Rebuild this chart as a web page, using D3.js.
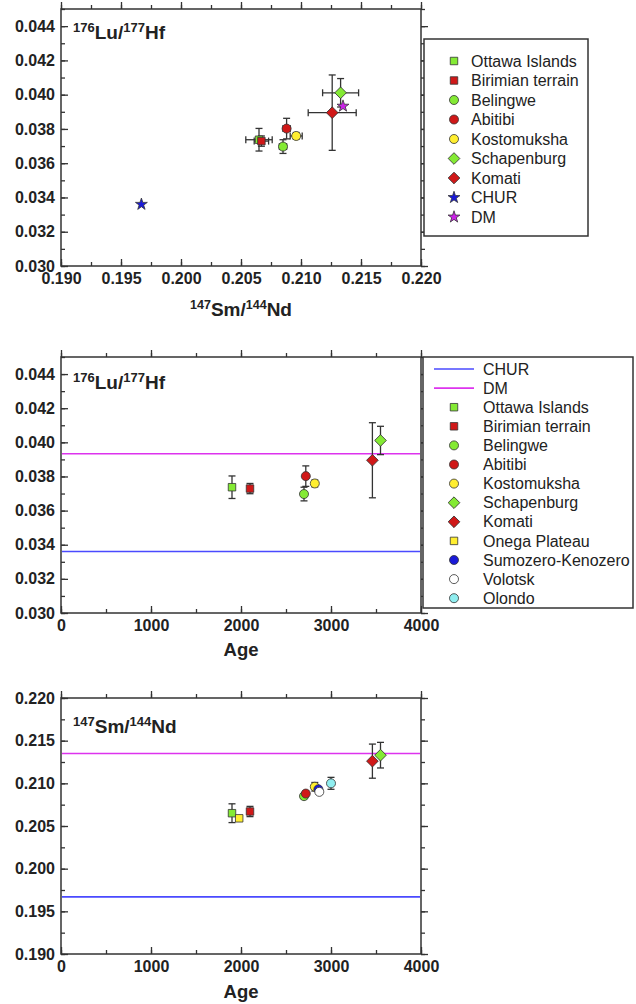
<!DOCTYPE html>
<html lang="en">
<head>
<meta charset="UTF-8">
<title>Lu/Hf and Sm/Nd vs Age</title>
<script src="https://d3js.org/d3.v7.min.js"></script>
<style>
    body { margin: 0; background: #fff; }
    svg { display: block; font-family: "Liberation Sans", Arial, Helvetica, sans-serif; }
    .legend text { font-size: 16px; fill: #222; }
</style>
</head>
<body>
<div id="chart"></div>
<script>
// ---- data ----
const groups = ["Ottawa Islands", "Birimian terrain", "Belingwe", "Abitibi", "Kostomuksha",
                "Schapenburg", "Komati", "Onega Plateau", "Sumozero-Kenozero", "Volotsk", "Olondo"];
const shapes = ["square", "square", "circle", "circle", "circle",
                "diamond", "diamond", "square", "circle", "circle", "circle"];
const colors = ["#84ea34", "#d01818", "#84ea34", "#d01818", "#ffee30",
                "#84ea34", "#d01818", "#ffee30", "#1a1ad8", "#ffffff", "#90eef0"];
const ages     = [1900, 2100, 2700, 2720, 2820, 3550, 3460, 1980, 2860, 2870, 3000];
const smNd     = [0.2065, 0.2067, 0.2085, 0.2088, 0.2096, 0.2133, 0.2126, 0.2059, 0.2093, 0.2090, 0.2100];
const smNdErr  = [0.0011, 0.0006, 0.0003, 0.0003, 0.0005, 0.0015, 0.0020, 0.0003, 0.0003, 0.0003, 0.0007];
const luHf     = [0.03737, 0.03729, 0.03697, 0.03802, 0.03759, 0.04011, 0.03895, null, null, null, null];
const luHfErr  = [0.00066, 0.00030, 0.00040, 0.00060, 0.00020, 0.00083, 0.00220, null, null, null, null];

const reservoirs = ["CHUR", "DM"];
const reservoirColors = ["#1a1ad8", "#cc22e8"];
const lineColors = ["#4a4aff", "#dd33ee"];
const reservoirSmNd = [0.1967, 0.2135];
const reservoirLuHf = [0.0336, 0.03933];

const luHfTicks = [0.030, 0.032, 0.034, 0.036, 0.038, 0.040, 0.042, 0.044];
const smNdTicks = [0.190, 0.195, 0.200, 0.205, 0.210, 0.215, 0.220];
const ageTicks  = [0, 1000, 2000, 3000, 4000];

// ---- layout ----
const W = 636, H = 1004;
const left = 61, right = 421;

const svg = d3.select("#chart").append("svg")
    .attr("width", W).attr("height", H);

const points = groups.map((g, i) => ({
    name: g, shape: shapes[i], color: colors[i], age: ages[i],
    sm: smNd[i], smE: smNdErr[i], lu: luHf[i], luE: luHfErr[i]
}));
// draw younger first so overlaps look like the original
const drawOrder = points.slice().sort((a, b) => a.age - b.age);

function symbolPath(shape) {
    if (shape === "square") return d3.symbol(d3.symbolSquare, 56)();
    if (shape === "circle") return d3.symbol(d3.symbolCircle, 64)();
    if (shape === "diamond") return d3.symbol(d3.symbolSquare, 68)();
    return d3.symbol(d3.symbolStar, 44)();
}
function drawMarker(sel, shape, color, x, y) {
    sel.append("path")
        .attr("d", symbolPath(shape))
        .attr("transform", `translate(${x},${y})` + (shape === "diamond" ? " rotate(45)" : ""))
        .attr("fill", color)
        .attr("stroke", "#333")
        .attr("stroke-width", 0.8);
}

function frame(x, y, xMajor, xMinor, yMajor, yMinor, xFmt, yFmt) {
    const g = svg.append("g");
    const [y0, y1] = y.range();
    const ax = (gen, ticks, size, lab, fmt, pad, tr) => {
        g.append("g").attr("transform", tr)
            .call(gen.tickValues(ticks).tickSize(-size).tickPadding(pad)
                .tickFormat(lab ? fmt : ""))
            .call(s => s.selectAll(".domain").remove());
    };
    ax(d3.axisBottom(x), xMinor, 4, false, null, 0, `translate(0,${y0})`);
    ax(d3.axisBottom(x), xMajor, 7, true, xFmt, 6.5, `translate(0,${y0})`);
    ax(d3.axisTop(x), xMinor, -4, false, null, 0, `translate(0,${y1})`);
    ax(d3.axisTop(x), xMajor, -7, false, null, 0, `translate(0,${y1})`);
    ax(d3.axisLeft(y), yMinor, 4, false, null, 0, `translate(${left},0)`);
    ax(d3.axisLeft(y), yMajor, 7, true, yFmt, 6, `translate(${left},0)`);
    ax(d3.axisRight(y), yMinor, -4, false, null, 0, `translate(${right},0)`);
    ax(d3.axisRight(y), yMajor, -7, false, null, 0, `translate(${right},0)`);
    g.selectAll(".tick line").attr("stroke", "#333").attr("stroke-width", 1.3);
    g.selectAll(".tick text")
        .attr("font-size", 16).attr("font-weight", "bold").attr("fill", "#222")
        .attr("font-family", "'Liberation Sans', Arial, sans-serif");
    g.append("rect")
        .attr("x", left).attr("y", y1)
        .attr("width", right - left).attr("height", y0 - y1)
        .attr("fill", "none").attr("stroke", "#333").attr("stroke-width", 1.5);
    return g;
}

function ratioLabel(sel, x, y, a, b, c, d, size, sup, anchor) {
    const t = sel.append("text")
        .attr("x", x).attr("y", y)
        .attr("font-weight", "bold").attr("fill", "#222")
        .attr("font-size", size)
        .attr("text-anchor", anchor || "start");
    t.append("tspan").attr("font-size", sup).attr("dy", -size * 0.38).text(a);
    t.append("tspan").attr("dy", size * 0.38).text(b + "/");
    t.append("tspan").attr("font-size", sup).attr("dy", -size * 0.38).text(c);
    t.append("tspan").attr("dy", size * 0.38).text(d);
    return t;
}

function errorBars(g, x1, y1, x2, y2, cap, vertical) {
    g.append("line").attr("x1", x1).attr("y1", y1).attr("x2", x2).attr("y2", y2)
        .attr("stroke", "#333").attr("stroke-width", 1.3);
    [[x1, y1], [x2, y2]].forEach(([px, py]) => {
        if (vertical) g.append("line").attr("x1", px - cap).attr("x2", px + cap)
            .attr("y1", py).attr("y2", py).attr("stroke", "#333").attr("stroke-width", 1.3);
        else g.append("line").attr("y1", py - cap).attr("y2", py + cap)
            .attr("x1", px).attr("x2", px).attr("stroke", "#333").attr("stroke-width", 1.3);
    });
}

const minor = (a, b, s) => d3.range(Math.round((b - a) / s) + 1).map(i => +(a + i * s).toFixed(6));

// ================= Panel 1: Lu/Hf vs Sm/Nd =================
{
    const x = d3.scaleLinear().domain([0.190, 0.220]).range([left, right]);
    const y = d3.scaleLinear().domain([0.030, 0.045]).range([266, 9]);
    frame(x, y, smNdTicks, minor(0.190, 0.220, 0.0025), luHfTicks, minor(0.030, 0.045, 0.001),
        d3.format(".3f"), d3.format(".3f"));
    const pts = drawOrder.filter(p => p.lu !== null);
    const eb = svg.append("g");
    pts.forEach(p => {
        errorBars(eb, x(p.sm), y(p.lu - p.luE), x(p.sm), y(p.lu + p.luE), 3.5, true);
        errorBars(eb, x(p.sm - p.smE), y(p.lu), x(p.sm + p.smE), y(p.lu), 3.5, false);
    });
    const mk = svg.append("g");
    pts.forEach(p => drawMarker(mk, p.shape, p.color, x(p.sm), y(p.lu)));
    reservoirs.forEach((r, i) => drawMarker(mk, "star", reservoirColors[i], x(reservoirSmNd[i]), y(reservoirLuHf[i])));
    ratioLabel(svg, 73, 39, "176", "Lu", "177", "Hf", 19, 13);
    ratioLabel(svg, (left + right) / 2, 316, "147", "Sm", "144", "Nd", 19, 12.5, "middle");

    // legend 1
    const lg = svg.append("g").attr("class", "legend");
    lg.append("rect").attr("x", 424).attr("y", 39).attr("width", 164).attr("height", 197)
        .attr("fill", "#fff").attr("stroke", "#333").attr("stroke-width", 1.5);
    const items = points.slice(0, 7).map(p => ({ name: p.name, shape: p.shape, color: p.color }))
        .concat(reservoirs.map((r, i) => ({ name: r, shape: "star", color: reservoirColors[i] })));
    items.forEach((it, i) => {
        const cy = 61 + i * 19.5;
        drawMarker(lg, it.shape, it.color, 454, cy);
        lg.append("text").attr("x", 471).attr("y", cy).attr("dy", "0.35em").text(it.name);
    });
}

// ================= Panel 2: Lu/Hf vs Age =================
{
    const x = d3.scaleLinear().domain([0, 4000]).range([left, right]);
    const y = d3.scaleLinear().domain([0.030, 0.045]).range([613, 357]);
    frame(x, y, ageTicks, minor(0, 4000, 500), luHfTicks, minor(0.030, 0.045, 0.001),
        d3.format("d"), d3.format(".3f"));
    reservoirs.forEach((r, i) => svg.append("line")
        .attr("x1", left + 1).attr("x2", right - 1)
        .attr("y1", y(reservoirLuHf[i])).attr("y2", y(reservoirLuHf[i]))
        .attr("stroke", lineColors[i]).attr("stroke-width", 1.6));
    const pts = drawOrder.filter(p => p.lu !== null);
    const eb = svg.append("g");
    pts.forEach(p => errorBars(eb, x(p.age), y(p.lu - p.luE), x(p.age), y(p.lu + p.luE), 3.5, true));
    const mk = svg.append("g");
    pts.forEach(p => drawMarker(mk, p.shape, p.color, x(p.age), y(p.lu)));
    ratioLabel(svg, 73, 389, "176", "Lu", "177", "Hf", 19, 13);
    svg.append("text").attr("x", (left + right) / 2).attr("y", 656).attr("text-anchor", "middle")
        .attr("font-weight", "bold").attr("font-size", 18.5).attr("fill", "#222").text("Age");

    // legend 2
    const lg = svg.append("g").attr("class", "legend");
    lg.append("rect").attr("x", 423).attr("y", 357).attr("width", 210).attr("height", 251)
        .attr("fill", "#fff").attr("stroke", "#333").attr("stroke-width", 1.5);
    reservoirs.forEach((r, i) => {
        const cy = 369 + i * 19.1;
        lg.append("line").attr("x1", 434).attr("x2", 474).attr("y1", cy).attr("y2", cy)
            .attr("stroke", lineColors[i]).attr("stroke-width", 1.6);
        lg.append("text").attr("x", 483).attr("y", cy).attr("dy", "0.35em").text(r);
    });
    points.forEach((p, i) => {
        const cy = 369 + (i + 2) * 19.1;
        drawMarker(lg, p.shape, p.color, 454, cy);
        lg.append("text").attr("x", 483).attr("y", cy).attr("dy", "0.35em").text(p.name);
    });
}

// ================= Panel 3: Sm/Nd vs Age =================
{
    const x = d3.scaleLinear().domain([0, 4000]).range([left, right]);
    const y = d3.scaleLinear().domain([0.190, 0.220]).range([954, 698]);
    frame(x, y, ageTicks, minor(0, 4000, 500), smNdTicks, minor(0.190, 0.220, 0.0025),
        d3.format("d"), d3.format(".3f"));
    reservoirs.forEach((r, i) => svg.append("line")
        .attr("x1", left + 1).attr("x2", right - 1)
        .attr("y1", y(reservoirSmNd[i])).attr("y2", y(reservoirSmNd[i]))
        .attr("stroke", lineColors[i]).attr("stroke-width", 1.6));
    const eb = svg.append("g");
    drawOrder.forEach(p => errorBars(eb, x(p.age), y(p.sm - p.smE), x(p.age), y(p.sm + p.smE), 3.5, true));
    const mk = svg.append("g");
    drawOrder.forEach(p => drawMarker(mk, p.shape, p.color, x(p.age), y(p.sm)));
    ratioLabel(svg, 73, 733, "147", "Sm", "144", "Nd", 19, 13);
    svg.append("text").attr("x", (left + right) / 2).attr("y", 998).attr("text-anchor", "middle")
        .attr("font-weight", "bold").attr("font-size", 18.5).attr("fill", "#222").text("Age");
}
</script>
</body>
</html>
